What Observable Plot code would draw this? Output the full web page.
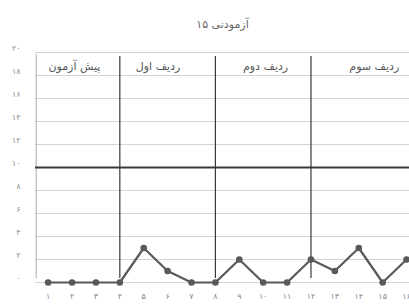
<!DOCTYPE html>
<html>
<head>
<meta charset="utf-8">
<script src="https://cdn.jsdelivr.net/npm/d3@7"></script>
<script src="https://cdn.jsdelivr.net/npm/@observablehq/plot@0.6"></script>
<style>
  html, body { margin: 0; padding: 0; background: #fff; }
  #chart svg { display: block; }
</style>
</head>
<body>
<div id="chart"></div>
<script>
const title = "آزمودنی ۱۵";
const sessions = [1, 2, 3, 4, 5, 6, 7, 8, 9, 10, 11, 12, 13, 14, 15, 16];
const scores   = [0, 0, 0, 0, 3, 1, 0, 0, 2, 0, 0, 2, 1, 3, 0, 2];
const xTickLabels = ["۱","۲","۳","۴","۵","۶","۷","۸","۹","۱۰","۱۱","۱۲","۱۳","۱۴","۱۵","۱۶"];
const yTicks = [0, 2, 4, 6, 8, 10, 12, 14, 16, 18, 20];
const yTickLabels = ["۰","۲","۴","۶","۸","۱۰","۱۲","۱۴","۱۶","۱۸","۲۰"];
const sectionBreaks = [4, 8, 12];
const sectionNames = ["پیش آزمون", "ردیف اول", "ردیف دوم", "ردیف سوم"];
const sectionLabelX = [2.1, 5.6, 10.1, 14.65];
const criterion = [10];

const data = sessions.map((s, i) => ({session: s, score: scores[i]}));
const sections = sectionNames.map((n, i) => ({name: n, x: sectionLabelX[i]}));
const font = "DejaVu Sans, sans-serif";

const chart = Plot.plot({
  width: 409,
  height: 306,
  marginLeft: 35,
  marginRight: 0,
  marginTop: 52,
  marginBottom: 24,
  style: {fontFamily: font, background: "#fff"},
  x: {domain: [0.5, 16.5], range: [35.7, 418], label: null},
  y: {domain: [0, 20], range: [282, 52], label: null},
  marks: [
    Plot.gridY(yTicks, {stroke: "#d4d4d4", strokeOpacity: 1, strokeWidth: 1}),
    Plot.ruleX([0.5], {y1: 0, y2: 20, stroke: "#aaa", strokeWidth: 1, insetTop: -4, insetBottom: -2}),
    Plot.ruleY(criterion, {stroke: "#3a3a3a", strokeWidth: 1.8}),
    Plot.ruleX(sectionBreaks, {y1: 0, y2: 20, stroke: "#3a3a3a", strokeWidth: 1.2, insetTop: -4, insetBottom: -4}),
    Plot.axisY(yTicks, {label: null, tickFormat: (d, i) => yTickLabels[i], tickSize: 0, tickPadding: 15, dy: -4, fontSize: 8, fill: "#888", fontFamily: font}),
    Plot.axisX(sessions, {label: null, tickFormat: (d, i) => xTickLabels[i], tickSize: 0, tickPadding: 11, fontSize: 8, fill: "#888", fontFamily: font}),
    Plot.line(data, {x: "session", y: "score", stroke: "#595959", strokeWidth: 2.2}),
    Plot.dot(data, {x: "session", y: "score", r: 3.3, fill: "#595959", stroke: "none"}),
    Plot.text(sections, {x: "x", text: "name", frameAnchor: "top", dy: 10, fontSize: 11, fill: "#555", fontFamily: font}),
    Plot.text([title], {frameAnchor: "top", dy: -32, fontSize: 11, fill: "#666", fontFamily: font})
  ]
});
document.getElementById("chart").appendChild(chart);
</script>
</body>
</html>
